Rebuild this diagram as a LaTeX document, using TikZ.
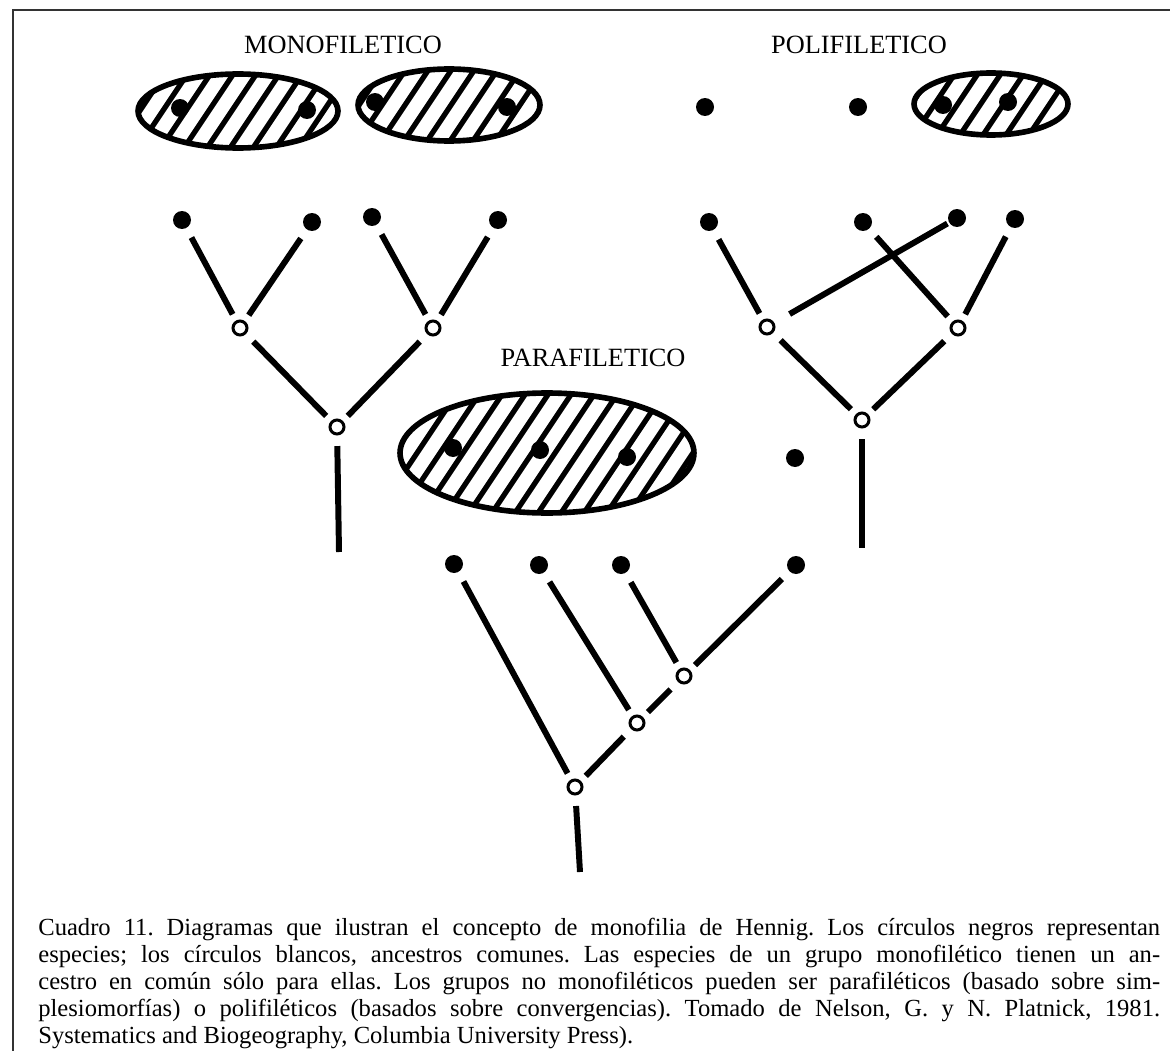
\documentclass[tikz,border=0pt]{standalone}
\usepackage{fontspec}
\setmainfont{Liberation Serif}
\usepackage{tikz}
\usetikzlibrary{shapes.geometric, calc}

\tikzset{
  species/.style={circle, fill=black, inner sep=0pt, minimum size=0.36cm},
  ancestor/.style={circle, draw, line width=1.7pt, fill=white, inner sep=0pt, minimum size=0.28cm},
  branch/.style={line width=3.4pt, shorten <=6pt, shorten >=4pt},
  group/.style={ellipse, draw, line width=3.2pt, inner sep=0pt,
    path picture={
      \foreach \d in {-2.5,-2.04,...,6.5}
        \draw[line width=3pt] ($(path picture bounding box.south west)+(\d cm,-0.3cm)$) -- ++(2cm,3cm);
    }},
  grouplabel/.style={font=\fontsize{15}{18}\selectfont}
}

\begin{document}
\begin{tikzpicture}[x=0.02cm, y=-0.02cm]
  \useasboundingbox (0,0) rectangle (1170,1051);
  \draw[line width=1pt, black!80] (1170,10) -- (13,10) -- (13,1051);

  \node[grouplabel] (monolabel) at (343,45) {MONOFILETICO};
  \node[grouplabel] (polilabel) at (859,45) {POLIFILETICO};
  \node[grouplabel] (paralabel) at (593,358) {PARAFILETICO};

  \node[group, minimum width=4cm, minimum height=1.48cm] (monoA) at (238,111) {};
  \node[group, minimum width=3.64cm, minimum height=1.44cm] (monoB) at (449,105) {};
  \node[species] (ma1) at (180,108) {};
  \node[species] (ma2) at (307,110) {};
  \node[species] (mb1) at (375,102) {};
  \node[species] (mb2) at (507,107) {};

  \node[species] (pa1) at (705,107) {};
  \node[species] (pa2) at (858,107) {};
  \node[group, minimum width=3.08cm, minimum height=1.24cm] (poliC) at (991,104) {};
  \node[species] (pc1) at (943,105) {};
  \node[species] (pc2) at (1008,102) {};

  \node[group, minimum width=5.88cm, minimum height=2.4cm] (paraA) at (547,453) {};
  \node[species] (qa1) at (453,448) {};
  \node[species] (qa2) at (540,450) {};
  \node[species] (qa3) at (627,457) {};
  \node[species] (qb) at (795,458) {};

  \node[species] (l1) at (182,220) {};
  \node[species] (l2) at (312,222) {};
  \node[species] (l3) at (372,217) {};
  \node[species] (l4) at (498,220) {};
  \node[ancestor] (la) at (240,328) {};
  \node[ancestor] (lb) at (433,328) {};
  \node[ancestor] (lc) at (337,427) {};
  \coordinate (lroot) at (339,552);
  \draw[branch] (l1) -- (la);
  \draw[branch] (l2) -- (la);
  \draw[branch] (l3) -- (lb);
  \draw[branch] (l4) -- (lb);
  \draw[branch] (la) -- (lc);
  \draw[branch] (lb) -- (lc);
  \draw[branch, shorten >=0pt] (lc) -- (lroot);

  \node[species] (r1) at (709,222) {};
  \node[species] (r2) at (863,222) {};
  \node[species] (r3) at (957,218) {};
  \node[species] (r4) at (1015,219) {};
  \node[ancestor] (ra) at (767,327) {};
  \node[ancestor] (rb) at (958,328) {};
  \node[ancestor] (rc) at (862,420) {};
  \coordinate (rroot) at (862,548);
  \draw[branch] (r1) -- (ra);
  \draw[branch, shorten <=1pt, shorten >=10pt] (r3) -- (ra);
  \draw[branch] (r2) -- (rb);
  \draw[branch] (r4) -- (rb);
  \draw[branch] (ra) -- (rc);
  \draw[branch] (rb) -- (rc);
  \draw[branch, shorten >=0pt] (rc) -- (rroot);

  \node[species] (b1) at (454,564) {};
  \node[species] (b2) at (539,565) {};
  \node[species] (b3) at (621,565) {};
  \node[species] (b4) at (796,565) {};
  \node[ancestor] (bg) at (684,676) {};
  \node[ancestor] (bh) at (637,723) {};
  \node[ancestor] (bi) at (575,787) {};
  \coordinate (broot) at (580,872);
  \draw[branch] (b1) -- (bi);
  \draw[branch] (b2) -- (bh);
  \draw[branch] (b3) -- (bg);
  \draw[branch] (b4) -- (bg);
  \draw[branch] (bg) -- (bh);
  \draw[branch] (bh) -- (bi);
  \draw[branch, shorten >=0pt] (bi) -- (broot);

  \node[anchor=north west, text width=22.44cm, align=justify, inner sep=0pt,
        font=\fontsize{14}{15.3}\selectfont\frenchspacing] (caption) at (38,918)
    {Cuadro 11. Diagramas que ilustran el concepto de monofilia de Hennig. Los círculos negros representan\linebreak
     especies; los círculos blancos, ancestros comunes. Las especies de un grupo monofilético tienen un an-\linebreak
     cestro en común sólo para ellas. Los grupos no monofiléticos pueden ser parafiléticos (basado sobre sim-\linebreak
     plesiomorfías) o polifiléticos (basados sobre convergencias). Tomado de Nelson, G. y N. Platnick, 1981.\linebreak
     Systematics and Biogeography, Columbia University Press).};
\end{tikzpicture}
\end{document}
